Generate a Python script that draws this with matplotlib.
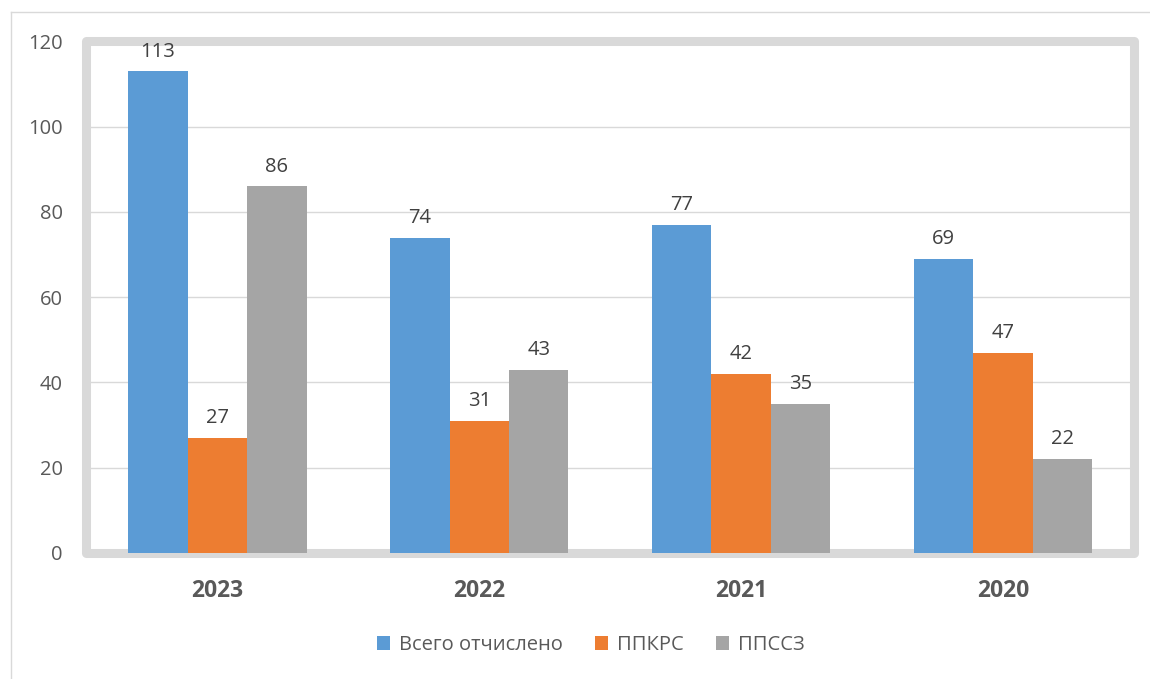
import matplotlib
matplotlib.use("Agg")
import matplotlib.pyplot as plt
from matplotlib.patches import Rectangle
from matplotlib.lines import Line2D
import numpy as np

years = ["2023", "2022", "2021", "2020"]
series_names = ["Всего отчислено", "ППКРС", "ППССЗ"]
total = [113, 74, 77, 69]
ppkrs = [27, 31, 42, 47]
ppssz = [86, 43, 35, 22]
colors = ["#5B9BD5", "#ED7D31", "#A5A5A5"]

plt.rcParams["font.family"] = ["Open Sans", "DejaVu Sans"]

fig = plt.figure(figsize=(11.5, 6.79), dpi=100)
ax = fig.add_axes([0.0752, 0.1856, 0.9109, 0.7533])

x = np.arange(len(years))
w = 0.227
for i, (vals, name, c) in enumerate(zip([total, ppkrs, ppssz], series_names, colors)):
    bars = ax.bar(x + (i - 1) * w, vals, w, color=c, label=name, zorder=3)
    for b, v in zip(bars, vals):
        ax.annotate(str(v), (b.get_x() + b.get_width() / 2, v),
                    xytext=(0, 7), textcoords="offset points",
                    ha="center", va="bottom", fontsize=14.5, color="#404040")

ax.set_xlim(-0.5, len(years) - 0.5)
ax.set_ylim(0, 120)
ax.set_yticks(range(0, 121, 20))
ax.set_xticks(x)
ax.set_xticklabels(years, fontsize=16.5, fontweight="bold", color="#595959")
ax.tick_params(axis="y", length=0, pad=17, labelsize=14.5, labelcolor="#595959")
ax.tick_params(axis="x", length=0, pad=19)
for s in ax.spines.values():
    s.set_visible(False)
for yv in range(20, 120, 20):
    ax.axhline(yv, color="#D9D9D9", lw=1, zorder=1)

ax.add_patch(Rectangle((0, 0), 1, 1, transform=ax.transAxes, fill=False,
                       ec="#D9D9D9", lw=6.5, joinstyle="round", clip_on=False,
                       zorder=2))

# outer chart border (only top and left are visible)
fig.add_artist(Line2D([11 / 1150, 11 / 1150], [0, 1 - 12 / 679],
                      transform=fig.transFigure, color="#D9D9D9", lw=1))
fig.add_artist(Line2D([11 / 1150, 1], [1 - 12 / 679, 1 - 12 / 679],
                      transform=fig.transFigure, color="#D9D9D9", lw=1))

leg = fig.legend(loc="center", bbox_to_anchor=(0.514, 0.05), ncol=3,
                 frameon=False, fontsize=14.5, handlelength=0.65,
                 handleheight=0.65, handletextpad=0.45, columnspacing=1.6)
for t in leg.get_texts():
    t.set_color("#595959")

fig.savefig("out.png", dpi=100)
